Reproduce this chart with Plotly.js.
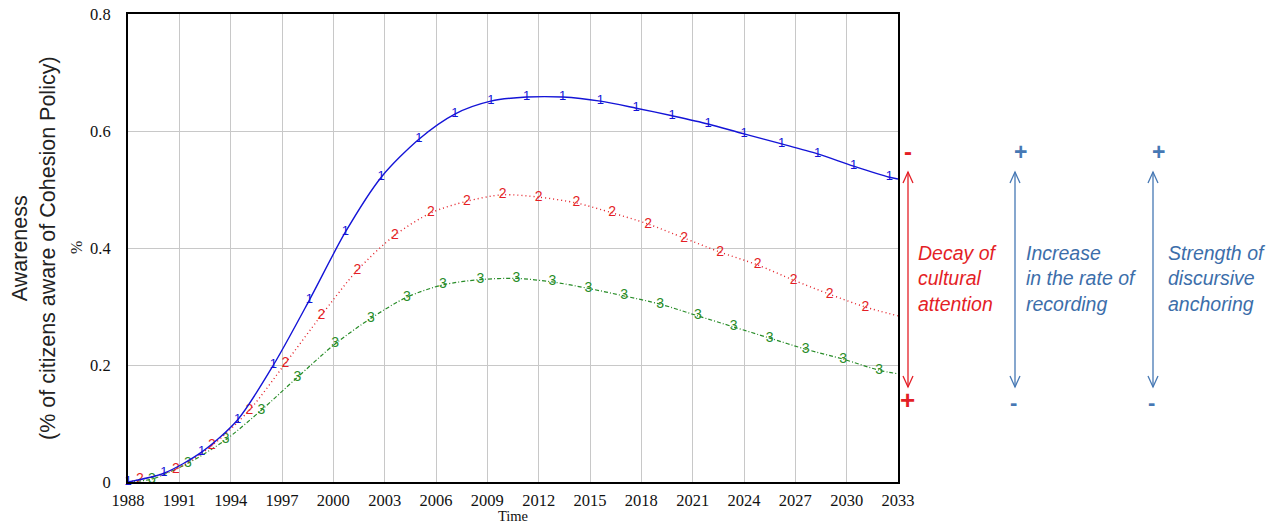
<!DOCTYPE html>
<html>
<head>
<meta charset="utf-8">
<script src="https://cdn.plot.ly/plotly-3.0.1.min.js"></script>
<style>
  html, body { margin: 0; padding: 0; background: #ffffff; }
  #chart { width: 1282px; height: 524px; }
</style>
</head>
<body>
<div id="chart"></div>
<script>
// ---- Data ----
const xTickVals = [1988, 1991, 1994, 1997, 2000, 2003, 2006, 2009, 2012, 2015, 2018, 2021, 2024, 2027, 2030, 2033];
const yTickVals = [0, 0.2, 0.4, 0.6, 0.8];
const yTickText = ["0", "0.2", "0.4", "0.6", "0.8"];

// Series 1 (blue, solid)
const s1Years = [1988, 1990.1, 1992.3, 1994.4, 1996.5, 1998.6, 2000.7, 2002.8, 2005.0, 2007.1, 2009.2, 2011.3, 2013.4, 2015.6, 2017.7, 2019.8, 2021.9, 2024.0, 2026.2, 2028.3, 2030.4, 2032.5, 2033];
const s1Vals  = [0, 0.015, 0.051, 0.106, 0.200, 0.311, 0.427, 0.521, 0.586, 0.629, 0.651, 0.658, 0.658, 0.651, 0.639, 0.626, 0.612, 0.595, 0.578, 0.561, 0.540, 0.521, 0.518];
const s1Marks = ["1","1","1","1","1","1","1","1","1","1","1","1","1","1","1","1","1","1","1","1","1","1",""];

// Series 2 (red, dotted)
const s2Years = [1988, 1988.7, 1990.8, 1992.9, 1995.1, 1997.2, 1999.3, 2001.4, 2003.6, 2005.7, 2007.8, 2009.9, 2012.0, 2014.2, 2016.3, 2018.4, 2020.5, 2022.6, 2024.8, 2026.9, 2029.0, 2031.1, 2033];
const s2Vals  = [0, 0.004, 0.022, 0.062, 0.123, 0.203, 0.285, 0.362, 0.422, 0.460, 0.480, 0.491, 0.487, 0.477, 0.460, 0.441, 0.417, 0.393, 0.371, 0.345, 0.321, 0.299, 0.284];
const s2Marks = ["","2","2","2","2","2","2","2","2","2","2","2","2","2","2","2","2","2","2","2","2","2",""];

// Series 3 (green, dash-dot)
const s3Years = [1988, 1989.4, 1991.5, 1993.7, 1995.8, 1997.9, 2000.1, 2002.2, 2004.3, 2006.4, 2008.6, 2010.7, 2012.8, 2014.9, 2017.0, 2019.1, 2021.3, 2023.4, 2025.5, 2027.6, 2029.8, 2031.9, 2033];
const s3Vals  = [0, 0.005, 0.032, 0.072, 0.123, 0.179, 0.236, 0.280, 0.316, 0.337, 0.346, 0.348, 0.342, 0.331, 0.318, 0.304, 0.284, 0.265, 0.246, 0.227, 0.210, 0.191, 0.185];
const s3Marks = ["","3","3","3","3","3","3","3","3","3","3","3","3","3","3","3","3","3","3","3","3","3",""];

// ---- Layout helpers (pixel -> paper) ----
const W = 1282, H = 524;
const L = 128, R = 898, T = 14, B = 482;
const px = x => (x - L) / (R - L);
const py = y => (B - y) / (B - T);

const BLUE = "rgb(20,20,215)";
const RED = "rgb(228,30,38)";
const GREEN = "rgb(40,140,40)";
const STEEL = "rgb(70,120,180)";
const STEEL_TXT = "rgb(60,110,170)";

function seriesTrace(xs, ys, marks, color, dash, width, fsize) {
  return {
    x: xs, y: ys, text: marks,
    type: "scatter", mode: "lines+text",
    line: { color: color, width: width, dash: dash, shape: "spline", smoothing: 0.8 },
    textposition: "middle center",
    textfont: { family: "Liberation Sans, Arial, sans-serif", size: fsize, color: color },
    cliponaxis: false,
    hoverinfo: "skip"
  };
}

const traces = [
  seriesTrace(s3Years, s3Vals, s3Marks, GREEN, "4px,2px,1px,2px", 1.2, 14),
  seriesTrace(s2Years, s2Vals, s2Marks, RED, "1px,3px", 1.4, 14),
  seriesTrace(s1Years, s1Vals, s1Marks, BLUE, "solid", 1.4, 13)
];

// Vertical double arrows (line + open chevrons)
function arrowShapes(xp, color) {
  const top = 172, bot = 387, hw = 5, hh = 11;
  const ln = { color: color, width: 1.3 };
  return [
    { type: "line", xref: "paper", yref: "paper", x0: px(xp), x1: px(xp), y0: py(top), y1: py(bot), line: ln },
    { type: "path", xref: "paper", yref: "paper",
      path: `M ${px(xp - hw)},${py(top + hh)} L ${px(xp)},${py(top)} L ${px(xp + hw)},${py(top + hh)}`, line: ln },
    { type: "path", xref: "paper", yref: "paper",
      path: `M ${px(xp - hw)},${py(bot - hh)} L ${px(xp)},${py(bot)} L ${px(xp + hw)},${py(bot - hh)}`, line: ln }
  ];
}

const shapes = [].concat(
  arrowShapes(908, RED),
  arrowShapes(1015, STEEL),
  arrowShapes(1153, STEEL)
);

function sign(txt, x, y, color, size) {
  return { text: "<b>" + txt + "</b>", xref: "paper", yref: "paper", x: px(x), y: py(y),
    xanchor: "center", yanchor: "middle", showarrow: false,
    font: { family: "Liberation Sans, Arial, sans-serif", size: size, color: color } };
}
function block(txt, x, y, color) {
  return { text: "<i>" + txt + "</i>", xref: "paper", yref: "paper", x: px(x), y: py(y),
    xanchor: "left", yanchor: "middle", align: "left", showarrow: false,
    font: { family: "Liberation Sans, Arial, sans-serif", size: 19.5, color: color } };
}

const annotations = [
  { text: "Awareness<br>(% of citizens aware of Cohesion Policy)", xref: "paper", yref: "paper",
    x: px(34), y: 0.5, xanchor: "center", yanchor: "middle", textangle: -90, showarrow: false,
    font: { family: "Liberation Sans, Arial, sans-serif", size: 21.5, color: "#222222" } },
  { text: "%", xref: "paper", yref: "paper", x: px(76), y: 0.5, xanchor: "center", yanchor: "middle",
    textangle: -90, showarrow: false,
    font: { family: "Liberation Serif, Times New Roman, serif", size: 16, color: "#222222" } },
  sign("-", 908, 152, RED, 24),
  sign("+", 908, 400, RED, 26),
  sign("+", 1020, 152, STEEL, 23),
  sign("-", 1013, 403, STEEL, 22),
  sign("+", 1158, 152, STEEL, 23),
  sign("-", 1151, 403, STEEL, 22),
  block("Decay of<br>cultural<br>attention", 916, 278, RED),
  block("Increase<br>in the rate of<br>recording", 1024, 278, STEEL_TXT),
  block("Strength of<br>discursive<br>anchoring", 1166, 278, STEEL_TXT)
];

const layout = {
  width: W, height: H,
  margin: { l: L, r: W - R, t: T, b: H - B },
  paper_bgcolor: "#ffffff",
  plot_bgcolor: "#ffffff",
  showlegend: false,
  hovermode: false,
  xaxis: {
    range: [1988, 2033],
    tickmode: "array", tickvals: xTickVals,
    ticks: "", ticklabelstandoff: 2,
    showgrid: true, gridcolor: "#c8c8c8", gridwidth: 1,
    zeroline: false,
    showline: true, linecolor: "#000000", linewidth: 2, mirror: true,
    tickfont: { family: "Liberation Serif, Times New Roman, serif", size: 16.5, color: "#111111" },
    title: { text: "Time", standoff: 4,
      font: { family: "Liberation Serif, Times New Roman, serif", size: 14.5, color: "#111111" } }
  },
  yaxis: {
    range: [0, 0.8],
    tickmode: "array", tickvals: yTickVals, ticktext: yTickText,
    ticks: "", ticklabelstandoff: 12,
    showgrid: true, gridcolor: "#c8c8c8", gridwidth: 1,
    zeroline: false,
    showline: true, linecolor: "#000000", linewidth: 2, mirror: true,
    tickfont: { family: "Liberation Serif, Times New Roman, serif", size: 16.5, color: "#111111" }
  },
  shapes: shapes,
  annotations: annotations
};

Plotly.newPlot("chart", traces, layout, { displayModeBar: false, staticPlot: true });
</script>
</body>
</html>
